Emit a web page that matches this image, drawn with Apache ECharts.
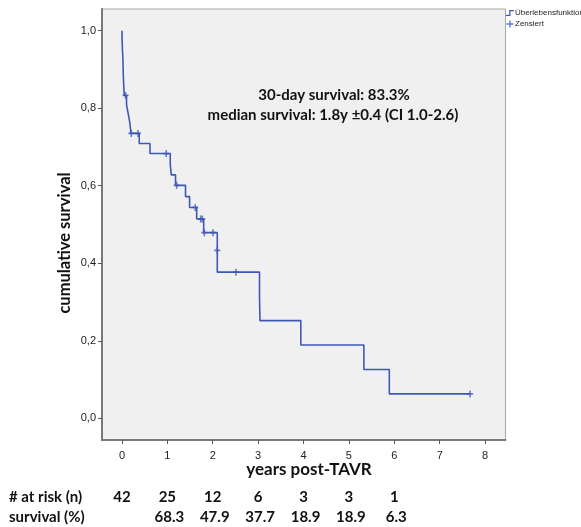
<!DOCTYPE html>
<html>
<head>
<meta charset="utf-8">
<script src="https://cdn.jsdelivr.net/npm/echarts@6/dist/echarts.min.js"></script>
<style>
html,body{margin:0;padding:0;background:#fff;}
#chart{width:581px;height:527px;}
</style>
</head>
<body>
<div id="chart"></div>
<script>
// Kaplan-Meier step curve (time in years, cumulative survival)
const eventTimes = [0, 0.003, 0.01, 0.02, 0.025, 0.03, 0.04, 0.05, 0.10, 0.14, 0.176, 0.198, 0.38, 0.617, 1.064, 1.087, 1.18, 1.40, 1.49, 1.646, 1.80, 2.10, 2.10, 3.03, 3.04, 3.94, 5.33, 5.89, 7.67];
const survival   = [1.0, 0.976, 0.952, 0.929, 0.905, 0.881, 0.857, 0.833, 0.809, 0.784, 0.760, 0.735, 0.709, 0.683, 0.656, 0.628, 0.601, 0.572, 0.544, 0.514, 0.479, 0.433, 0.377, 0.315, 0.252, 0.189, 0.126, 0.063, 0.063];
// censored observations
const censorTimes  = [0.08, 0.205, 0.353, 0.975, 1.205, 1.615, 1.734, 1.77, 1.814, 2.005, 2.10, 2.51, 7.67];
const censorValues = [0.833, 0.735, 0.735, 0.683, 0.601, 0.544, 0.514, 0.514, 0.479, 0.479, 0.433, 0.377, 0.063];
// axis ticks
const xTicks = [0, 1, 2, 3, 4, 5, 6, 7, 8];
const yTicks = [0, 0.2, 0.4, 0.6, 0.8, 1.0];
// risk table
const tableYears = [0, 1, 2, 3, 4, 5, 6];
const atRisk = ['42', '25', '12', '6', '3', '3', '1'];
const survPct = ['', '68.3', '47.9', '37.7', '18.9', '18.9', '6.3'];

const chart = echarts.init(document.getElementById('chart'), null, {renderer: 'canvas'});
const FONT = 'Lato, "Open Sans", sans-serif';
const BLUE = '#3f58b6';

const option = {
  animation: false,
  backgroundColor: '#ffffff',
  grid: {
    left: 102, top: 9, right: 75.5, bottom: 87,
    show: true, backgroundColor: '#f0f0f0', borderColor: '#a8a8a8', borderWidth: 1
  },
  legend: {
    orient: 'vertical', left: 506, top: 9, padding: 0,
    itemWidth: 8, itemHeight: 7, itemGap: 3,
    textStyle: {fontFamily: 'Liberation Sans, Arial, sans-serif', fontSize: 8, color: '#222', padding: [0,0,0,-4]},
    data: [
      {name: 'Überlebensfunktion', icon: 'path://M0,6 L4,6 L4,0 L10,0 L10,1.6 L5.6,1.6 L5.6,7.6 L0,7.6 Z', itemStyle: {color: BLUE}},
      {name: 'Zensiert', icon: 'path://M4,0 H6 V4 H10 V6 H6 V10 H4 V6 H0 V4 H4 Z', itemStyle: {color: BLUE}}
    ]
  },
  xAxis: {
    type: 'value', min: -0.44, max: 8.45,
    axisLine: {show: true, onZero: false, lineStyle: {color: '#7a7a7a', width: 2}},
    axisTick: {show: true, length: 4, customValues: xTicks, lineStyle: {color: '#555'}},
    axisLabel: {customValues: xTicks, margin: 10, fontFamily: 'Liberation Sans, Arial, sans-serif', fontSize: 11, color: '#222'},
    splitLine: {show: false}
  },
  yAxis: {
    type: 'value', min: -0.056, max: 1.056,
    axisLine: {show: true, onZero: false, lineStyle: {color: '#7a7a7a', width: 2}},
    axisTick: {show: true, length: 4, customValues: yTicks, lineStyle: {color: '#555'}},
    axisLabel: {customValues: yTicks, margin: 6, fontFamily: 'Liberation Sans, Arial, sans-serif', fontSize: 11, color: '#222',
      formatter: v => v.toFixed(1).replace('.', ',')},
    splitLine: {show: false}
  },
  series: [
    {
      name: 'Überlebensfunktion', type: 'line', step: 'end', showSymbol: false, symbol: 'none',
      lineStyle: {color: BLUE, width: 1.6}, itemStyle: {color: BLUE},
      data: eventTimes.map((t, i) => [t, survival[i]]), z: 2
    },
    {
      name: 'Zensiert', type: 'scatter',
      symbol: 'path://M3,0 H5 V3 H8 V5 H5 V8 H3 V5 H0 V3 H3 Z', symbolSize: [6, 7],
      itemStyle: {color: BLUE},
      data: censorTimes.map((t, i) => [t, censorValues[i]]), z: 3
    }
  ]
};
chart.setOption(option);

const bold = (txt, x, y, align, size, extra) => Object.assign({
  type: 'text', x: x, y: y,
  style: {text: txt, fontFamily: FONT, fontWeight: 'bold', fontSize: size, fill: '#111', align: align, verticalAlign: 'middle'}
}, extra || {});
const graphics = [
  bold('30-day survival: 83.3%', 334, 95, 'center', 15),
  bold('median survival: 1.8y \u00b10.4 (CI 1.0-2.6)', 333, 115, 'center', 15),
  bold('cumulative survival', 65, 243, 'center', 16.5, {rotation: Math.PI / 2}),
  bold('years post-TAVR', 309, 470, 'center', 17),
  bold('# at risk (n)', 9, 497, 'left', 15),
  bold('survival (%)', 9, 517, 'left', 15)
];
tableYears.forEach((yr, i) => {
  const px = chart.convertToPixel({xAxisIndex: 0}, yr);
  graphics.push(bold(atRisk[i], px, 497, 'center', 15));
  if (survPct[i]) graphics.push(bold(survPct[i], px + 2, 517, 'center', 15));
});
chart.setOption({graphic: graphics});
</script>
</body>
</html>
